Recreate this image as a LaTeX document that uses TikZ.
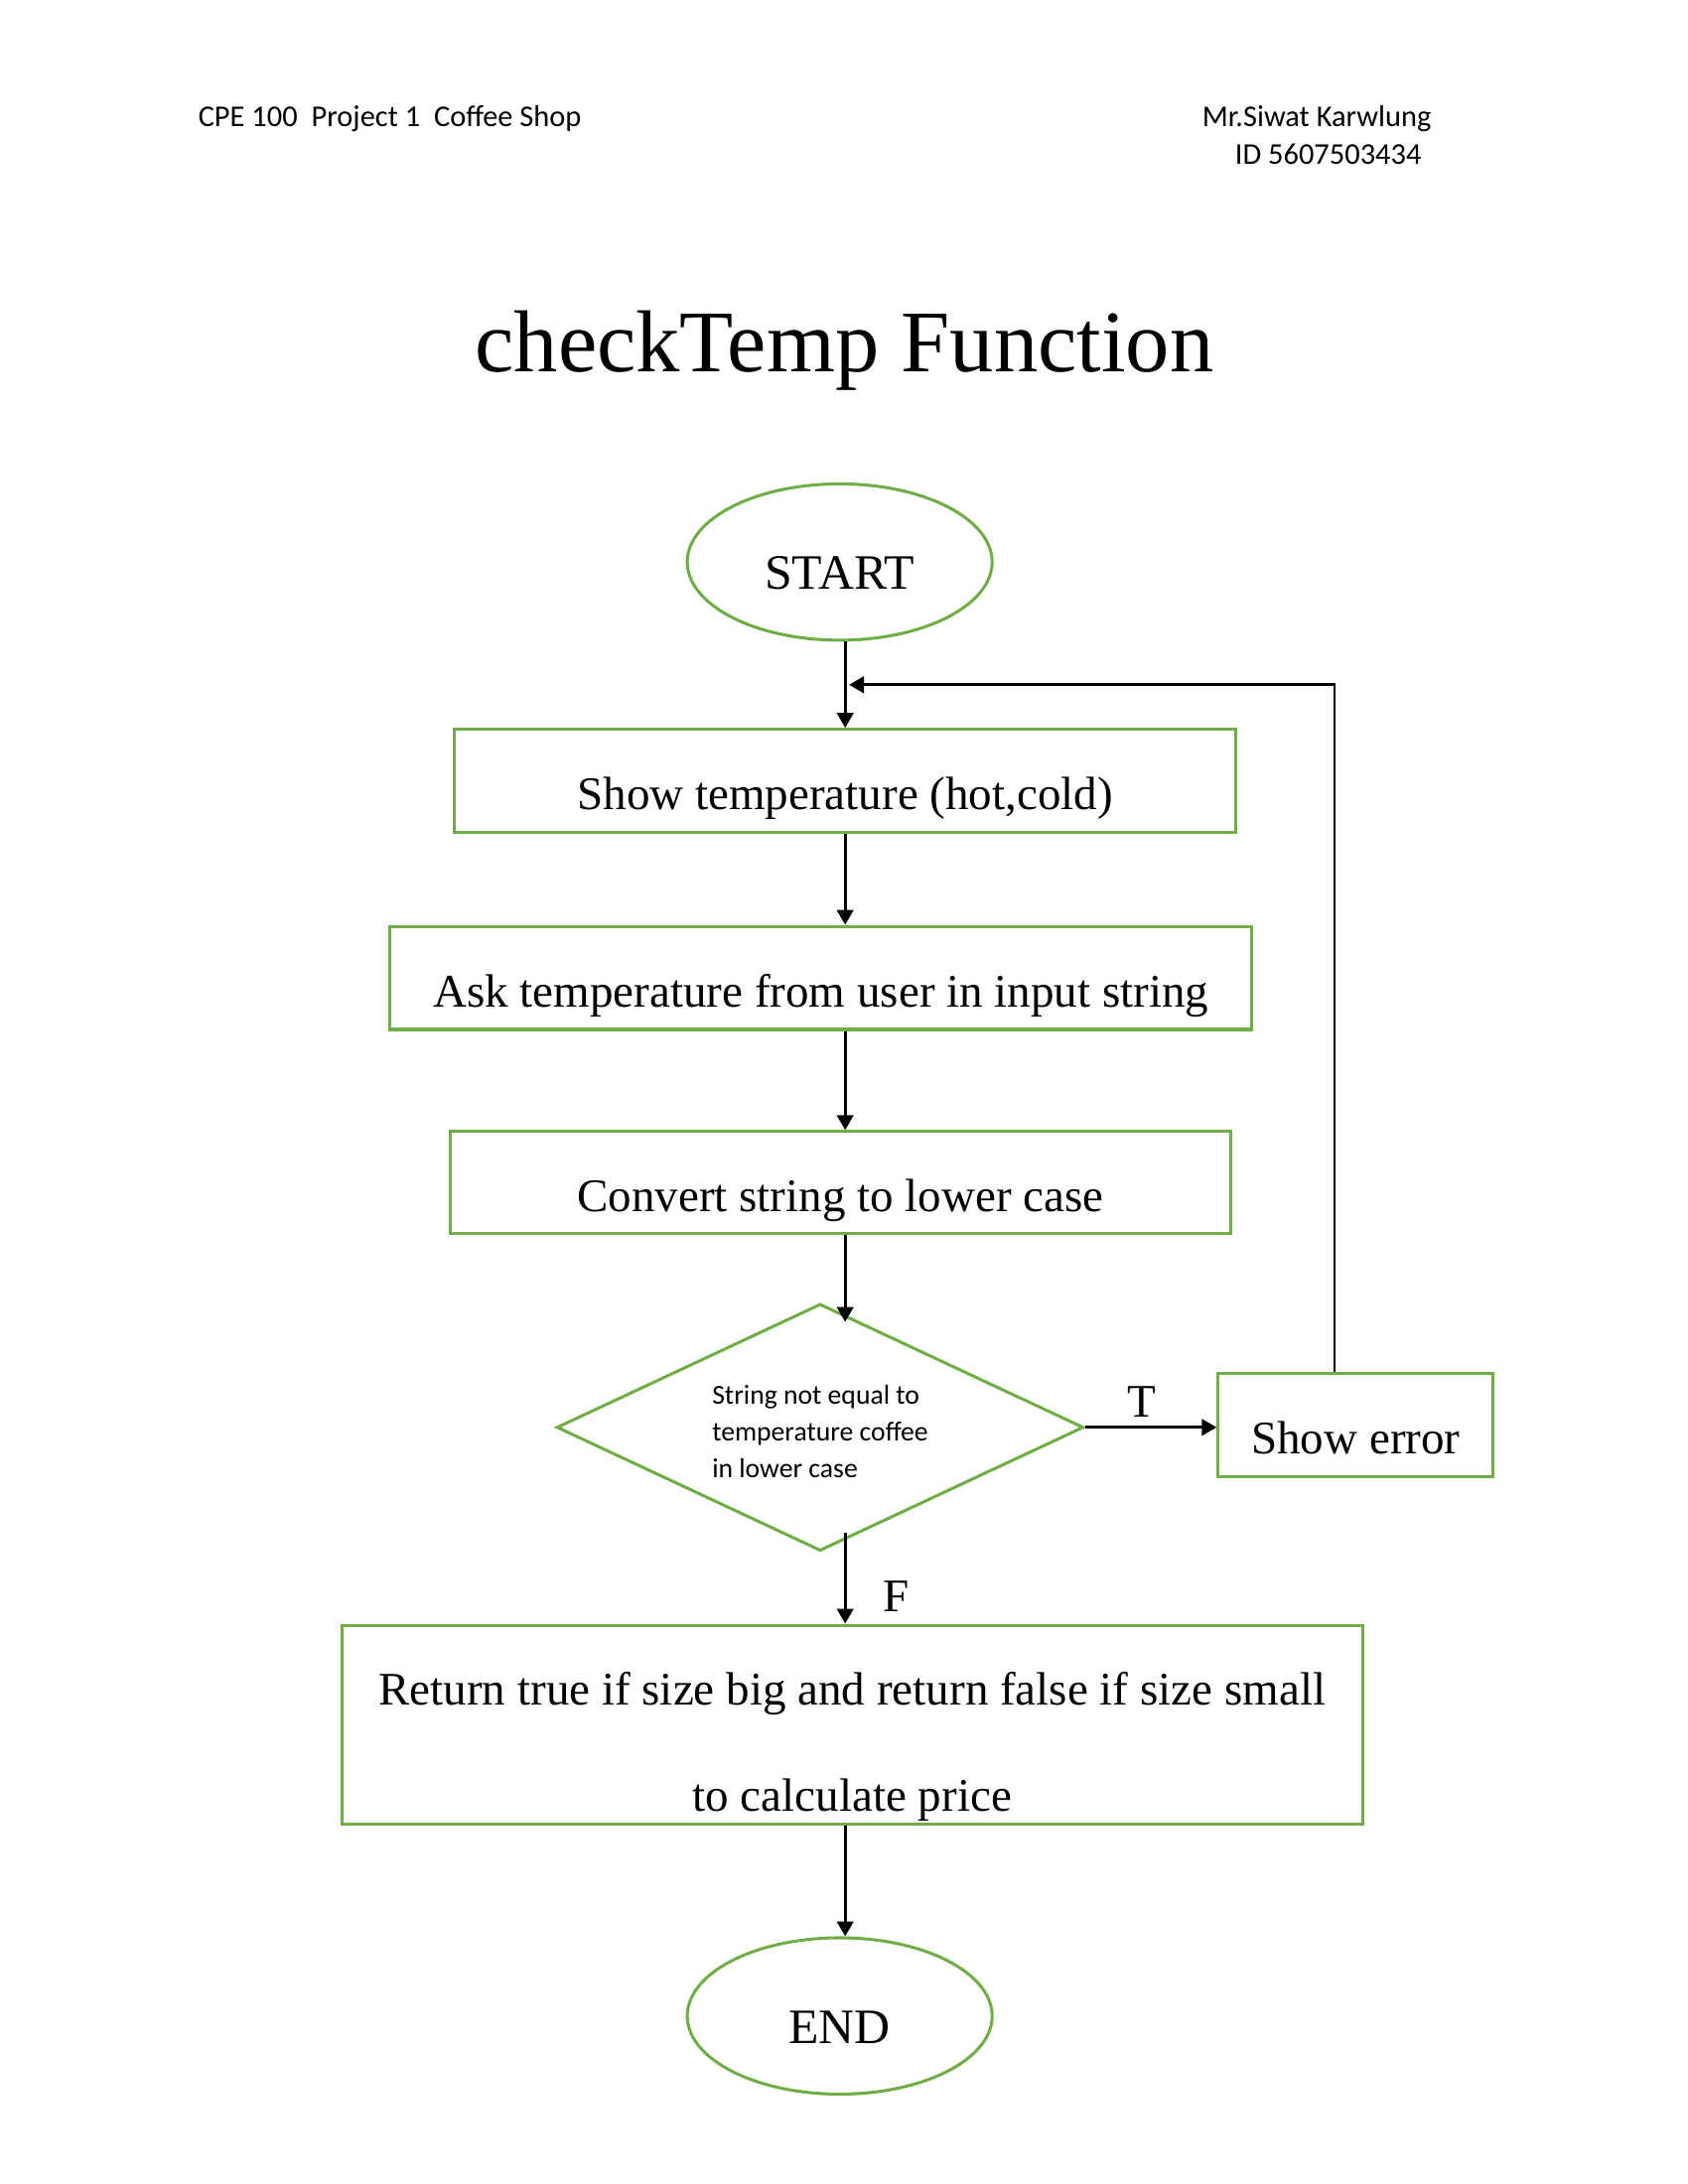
\documentclass[tikz,border=0pt]{standalone}
\usepackage{fontspec}
\setmainfont{Liberation Serif}
\newfontfamily\calibri{Carlito}
\definecolor{box_c}{rgb}{
	0.4392156862745098, 0.6784313725490196, 0.2784313725490196
	}
\usetikzlibrary{arrows.meta,
		calc,
		positioning,
		shapes.geometric}

\begin{document}
\begin{tikzpicture}[
			box/.style = {rectangle, draw=box_c, line width=1.1pt, font=\fontsize{17}{20}\selectfont},
			one/.style = {box, minimum height=1.32cm, text height=24pt, text depth=3pt, inner sep=3pt},
			term/.style = {ellipse, draw=box_c, line width=1.1pt, inner sep=0pt, minimum width=3.9cm, minimum height=2.0cm, text height=20pt, text depth=0pt, font=\fontsize{18}{21}\selectfont},
			flow/.style = {line width=1pt, -{Triangle[length=1.9mm,width=2.1mm]}},
			head/.style = {inner sep=0pt, anchor=west, font=\calibri\fontsize{11}{13}\selectfont},
			]
			\useasboundingbox (0,0) rectangle (21.59,-27.94);
			% header
			\node[head] (course) at (2.53,-1.52) {CPE 100\ \ Project 1\ \ Coffee Shop};
			\node[head] (author) at (15.37,-1.52) {Mr.Siwat Karwlung};
			\node[head] (stid) at (15.79,-1.97) {ID 5607503434};
			\node[font=\fontsize{32}{38}\selectfont] (title) at (10.80,-4.49) {checkTemp Function};
			% flow
			\node[term] (start) at (10.74,-7.19) {START};
			\node[one, minimum width=9.99cm] (show) at (10.81,-9.99) {Show temperature (hot,cold)};
			\node[one, minimum width=11.02cm] (ask) at (10.50,-12.51) {Ask temperature from user in input string};
			\node[one, minimum width=9.99cm, minimum height=1.31cm] (conv) at (10.75,-15.13) {Convert string to lower case};
			\node[diamond, aspect=2.13, draw=box_c, line width=1.1pt, inner sep=0pt, minimum width=6.74cm, minimum height=3.16cm,
				align=left, font=\calibri\fontsize{10}{13.3}\selectfont] (dec) at (10.49,-18.26)
				{\rule{0pt}{10pt}String not equal to\\temperature coffee\\in lower case};
			\node[one, minimum width=3.52cm, minimum height=1.31cm] (err) at (17.34,-18.23) {Show error};
			\node[box, inner sep=0pt, minimum width=13.06cm, minimum height=2.54cm, align=center,
				font=\fontsize{17}{38.5}\selectfont] (ret) at (10.90,-22.06)
				{\rule{0pt}{28pt}Return true if size big and return false if size small\\to calculate price};
			\node[term] (fin) at (10.74,-25.79) {END};
			% loop back point
			\coordinate (join) at ($(show.north)!0.5!(show.north |- start.south)$);
			% edges
			\draw[flow] (start.south -| show) -- (show.north);
			\draw[flow] (show.south) -- (ask.north -| show);
			\draw[flow] (ask.south -| show) -- (conv.north -| show);
			\draw[flow] (conv.south -| show) -- ([yshift=-2.5mm]dec.north -| show);
			\draw[flow] (dec.east) -- node[above, pos=0.43, font=\fontsize{17}{20}\selectfont] (tlab) {T} (dec.east -| err.west);
			\draw[flow] ([xshift=-2.7mm]err.north) |- ([xshift=0.5mm]join);
			\draw[flow] ([yshift=2.5mm]dec.south -| show) -- node[right=10pt, pos=0.7, font=\fontsize{17}{20}\selectfont] (flab) {F} (ret.north -| show);
			\draw[flow] (ret.south -| show) -- (fin.north -| show);
\end{tikzpicture}
\end{document}
